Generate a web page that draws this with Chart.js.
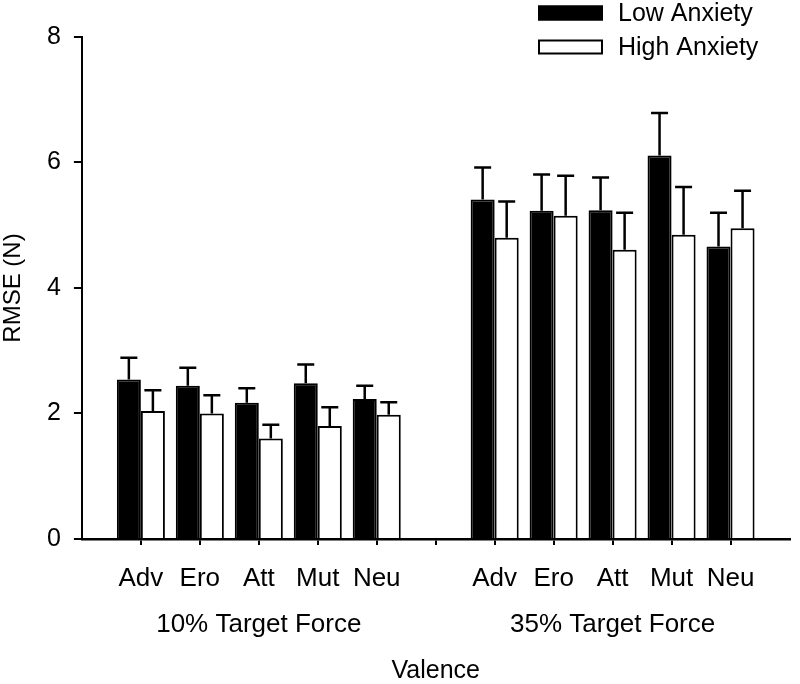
<!DOCTYPE html>
<html>
<head>
<meta charset="utf-8">
<script src="https://cdn.jsdelivr.net/npm/chart.js@4"></script>
<style>
  body { margin: 0; background: #fff; }
</style>
</head>
<body>
<canvas id="myChart" width="800" height="684"></canvas>
<script>
const valences = ['Adv', 'Ero', 'Att', 'Mut', 'Neu'];
const groups = ['10% Target Force', '35% Target Force'];

// RMSE means
const low10 = [2.54, 2.44, 2.17, 2.48, 2.23];
const high10 = [2.04, 2.0, 1.6, 1.8, 1.98];
const low35 = [5.41, 5.23, 5.24, 6.11, 4.66];
const high35 = [4.8, 5.15, 4.61, 4.85, 4.95];

// upper error bar lengths
const low10Err = [0.35, 0.29, 0.23, 0.3, 0.21];
const high10Err = [0.33, 0.29, 0.22, 0.3, 0.2];
const low35Err = [0.51, 0.58, 0.52, 0.68, 0.54];
const high35Err = [0.58, 0.64, 0.59, 0.76, 0.6];

const yTicks = [0, 2, 4, 6, 8];

// 13 slots: empty, group 1, empty gap, group 2, empty
function slots(a, b) {
  return [null].concat(a, [null], b, [null]);
}

const labels = slots(valences, valences).map((v) => (v === null ? '' : v));
labels[3] = ['Att', groups[0]];
labels[9] = ['Att', groups[1]];

const errorBars = {
  id: 'errorBars',
  afterDatasetsDraw(chart) {
    const ctx = chart.ctx;
    const y = chart.scales.y;
    ctx.save();
    ctx.strokeStyle = '#000';
    ctx.lineWidth = 2.5;
    chart.data.datasets.forEach((ds, di) => {
      const meta = chart.getDatasetMeta(di);
      meta.data.forEach((bar, i) => {
        const v = ds.data[i];
        if (v == null) return;
        const top = y.getPixelForValue(v + ds.errors[i]);
        ctx.beginPath();
        ctx.moveTo(bar.x, bar.y);
        ctx.lineTo(bar.x, top);
        ctx.moveTo(bar.x - 8.5, top);
        ctx.lineTo(bar.x + 8.5, top);
        ctx.stroke();
      });
    });
    ctx.restore();
  },
};

const cornerLegend = {
  id: 'cornerLegend',
  afterDraw(chart) {
    const ctx = chart.ctx;
    ctx.save();
    ctx.font = '25px "Liberation Sans", Arial, sans-serif';
    ctx.textBaseline = 'middle';
    chart.data.datasets.forEach((ds, i) => {
      const cy = 13 + i * 34;
      ctx.fillStyle = ds.backgroundColor;
      ctx.fillRect(538, cy - 7.5, 65, 15);
      ctx.strokeStyle = '#000';
      ctx.lineWidth = 2;
      ctx.strokeRect(539, cy - 6.5, 63, 13);
      ctx.fillStyle = '#000';
      ctx.fillText(ds.label, 618, cy + 1);
    });
    ctx.restore();
  },
};

Chart.defaults.color = '#000';
Chart.defaults.font.family = '"Liberation Sans", Arial, sans-serif';

const data = {
  labels: labels,
  datasets: [
    {
      label: 'Low Anxiety',
      data: slots(low10, low35),
      errors: slots(low10Err, low35Err),
      backgroundColor: '#000',
      borderColor: '#000',
      borderWidth: 2,
    },
    {
      label: 'High Anxiety',
      data: slots(high10, high35),
      errors: slots(high10Err, high35Err),
      backgroundColor: '#fff',
      borderColor: '#000',
      borderWidth: 2,
    },
  ],
};

const config = {
  type: 'bar',
  data: data,
  options: {
    responsive: false,
    animation: false,
    layout: { padding: { top: 37, right: 2, left: 0, bottom: 0 } },
    datasets: {
      bar: { categoryPercentage: 0.815, barPercentage: 1 },
    },
    plugins: {
      legend: { display: false },
      tooltip: { enabled: false },
    },
    scales: {
      x: {
        offset: false,
        grid: {
          offset: false,
          drawOnChartArea: false,
          tickLength: 6,
          lineWidth: 2,
          tickColor: (c) => (c.index === 0 || c.index === 12 ? 'rgba(0,0,0,0)' : '#000'),
        },
        border: { color: '#000', width: 2.5 },
        ticks: {
          autoSkip: false,
          maxRotation: 0,
          minRotation: 0,
          padding: 10.5,
          font: { size: 26, lineHeight: 1.77 },
        },
        title: {
          display: true,
          text: 'Valence',
          font: { size: 25, lineHeight: 1 },
          padding: { top: 1, bottom: 0 },
        },
      },
      y: {
        min: 0,
        max: 8,
        afterBuildTicks: (scale) => {
          scale.ticks = yTicks.map((v) => ({ value: v }));
        },
        grid: {
          drawOnChartArea: false,
          tickLength: 8,
          lineWidth: 2,
          color: '#000',
        },
        border: { color: '#000', width: 2 },
        ticks: {
          padding: 13,
          font: { size: 25 },
        },
        title: {
          display: true,
          text: 'RMSE (N)',
          font: { size: 24, lineHeight: 1 },
          padding: { top: 1, bottom: 9 },
        },
      },
    },
  },
  plugins: [errorBars, cornerLegend],
};

const myChart = new Chart(document.getElementById('myChart'), config);
</script>
</body>
</html>
